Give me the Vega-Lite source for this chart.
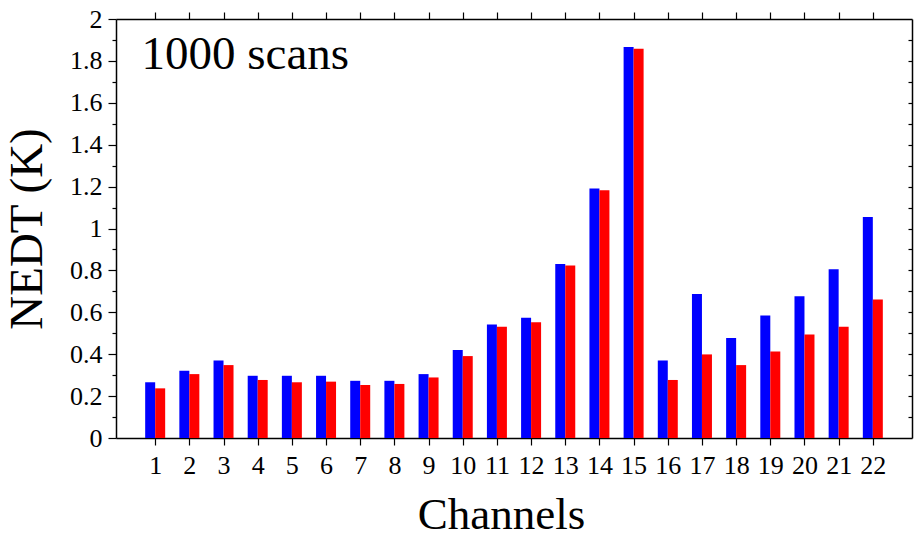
{
  "$schema": "https://vega.github.io/schema/vega-lite/v6.json",
  "width": 796,
  "height": 419,
  "autosize": "none",
  "padding": {"left": 116, "top": 19, "right": 6, "bottom": 100},
  "background": "white",
  "config": {
    "view": {"stroke": null},
    "font": "Liberation Serif",
    "axis": {
      "grid": false,
      "domainColor": "black",
      "domainWidth": 1.5,
      "tickColor": "black",
      "tickWidth": 1.2,
      "labelFont": "Liberation Serif",
      "titleFont": "Liberation Serif",
      "labelColor": "black",
      "titleColor": "black",
      "titleFontWeight": "normal"
    }
  },
  "datasets": {
    "nedt": [
      {"channel": 1, "blue": 0.266, "red": 0.237},
      {"channel": 2, "blue": 0.321, "red": 0.305},
      {"channel": 3, "blue": 0.370, "red": 0.348},
      {"channel": 4, "blue": 0.297, "red": 0.277},
      {"channel": 5, "blue": 0.297, "red": 0.266},
      {"channel": 6, "blue": 0.297, "red": 0.269},
      {"channel": 7, "blue": 0.273, "red": 0.253},
      {"channel": 8, "blue": 0.273, "red": 0.258},
      {"channel": 9, "blue": 0.305, "red": 0.289},
      {"channel": 10, "blue": 0.420, "red": 0.391},
      {"channel": 11, "blue": 0.542, "red": 0.531},
      {"channel": 12, "blue": 0.574, "red": 0.553},
      {"channel": 13, "blue": 0.831, "red": 0.823},
      {"channel": 14, "blue": 1.191, "red": 1.183},
      {"channel": 15, "blue": 1.866, "red": 1.858},
      {"channel": 16, "blue": 0.370, "red": 0.277},
      {"channel": 17, "blue": 0.687, "red": 0.399},
      {"channel": 18, "blue": 0.477, "red": 0.348},
      {"channel": 19, "blue": 0.585, "red": 0.413},
      {"channel": 20, "blue": 0.677, "red": 0.494},
      {"channel": 21, "blue": 0.806, "red": 0.531},
      {"channel": 22, "blue": 1.055, "red": 0.661}
    ],
    "note": [{"label": "1000 scans"}]
  },
  "layer": [
    {
      "data": {"name": "nedt"},
      "mark": {"type": "bar", "size": 10, "xOffset": -5, "color": "#0000ff", "orient": "vertical"},
      "encoding": {
        "x": {
          "field": "channel", "type": "quantitative",
          "scale": {"domain": [0, 23], "nice": false, "zero": false},
          "axis": {
            "orient": "bottom",
            "values": [1,2,3,4,5,6,7,8,9,10,11,12,13,14,15,16,17,18,19,20,21,22],
            "format": "d",
            "tickSize": 7,
            "labelFontSize": 26,
            "labelPadding": 7,
            "labelFlush": false,
            "labelOverlap": false,
            "encode": {"labels": {"update": {"fontSize": {"value": 26}, "font": {"value": "Liberation Serif"}}}},
            "title": "Channels",
            "titleFontSize": 45,
            "titlePadding": 14,
            "titleX": 385
          }
        },
        "y": {
          "field": "blue", "type": "quantitative",
          "scale": {"domain": [0, 2], "nice": false},
          "axis": {
            "orient": "left",
            "values": [0,0.1,0.2,0.3,0.4,0.5,0.6,0.7,0.8,0.9,1,1.1,1.2,1.3,1.4,1.5,1.6,1.7,1.8,1.9,2],
            "format": "~g",
            "labelExpr": "round(datum.value*10)%2==0 ? datum.label : ''",
            "tickSize": {"condition": {"test": "round(datum.value*10)%2==0", "value": 8}, "value": 4},
            "labelFontSize": 26,
            "labelPadding": 6,
            "labelFlush": false,
            "labelOverlap": false,
            "encode": {"labels": {"update": {"fontSize": {"value": 26}, "font": {"value": "Liberation Serif"}}}},
            "title": "NEDT (K)",
            "titleFontSize": 47,
            "titlePadding": 18
          }
        }
      }
    },
    {
      "data": {"name": "nedt"},
      "mark": {"type": "bar", "size": 10, "xOffset": 5, "color": "#ff0000", "orient": "vertical"},
      "encoding": {
        "x": {
          "field": "channel", "type": "quantitative",
          "axis": {
            "orient": "top",
            "values": [1,2,3,4,5,6,7,8,9,10,11,12,13,14,15,16,17,18,19,20,21,22],
            "labels": false,
            "tickSize": 7,
            "title": null
          }
        },
        "y": {
          "field": "red", "type": "quantitative",
          "axis": {
            "orient": "right",
            "values": [0.1,0.2,0.3,0.4,0.5,0.6,0.7,0.8,0.9,1,1.1,1.2,1.3,1.4,1.5,1.6,1.7,1.8,1.9],
            "labels": false,
            "tickSize": -4,
            "title": null
          }
        }
      }
    },
    {
      "data": {"name": "note"},
      "mark": {"type": "text", "font": "Liberation Serif", "fontSize": 47, "align": "left", "baseline": "alphabetic", "color": "black"},
      "encoding": {
        "text": {"field": "label"},
        "x": {"datum": 0.6, "type": "quantitative", "axis": null},
        "y": {"datum": 1.76, "type": "quantitative", "axis": null}
      }
    }
  ],
  "resolve": {"axis": {"x": "independent", "y": "independent"}}
}
